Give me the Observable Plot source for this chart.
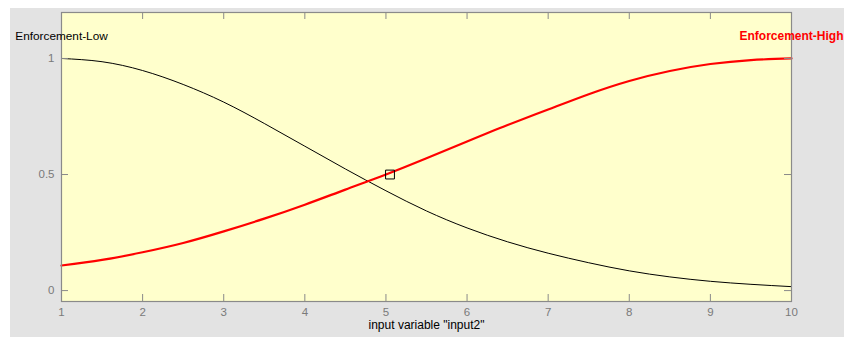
<!DOCTYPE html>
<html>
<head>
<meta charset="utf-8">
<script src="https://cdn.jsdelivr.net/npm/d3@7"></script>
<script src="https://cdn.jsdelivr.net/npm/@observablehq/plot@0.6"></script>
<style>
  html, body { margin: 0; padding: 0; background: #ffffff; }
  #wrap { position: relative; width: 844px; height: 337px; overflow: hidden; }
  #bg { position: absolute; left: 10px; top: 8px; right: 0; bottom: 0; background: #e3e3e3; }
  #chart { position: absolute; left: 0; top: 0; }
  svg { background: transparent !important; }
</style>
</head>
<body>
<div id="wrap"><div id="bg"></div><div id="chart"></div></div>
<script>
const xs = [1, 1.5, 2, 2.5, 3, 3.5, 4, 4.5, 5, 5.5, 6, 6.5, 7, 7.5, 8, 8.5, 9, 9.5, 10];
const lowValues = [1.0, 0.986, 0.948, 0.888, 0.812, 0.72, 0.622, 0.524, 0.43, 0.343, 0.27, 0.21, 0.161, 0.12, 0.085, 0.059, 0.04, 0.027, 0.017];
const highValues = [0.108, 0.132, 0.165, 0.205, 0.255, 0.31, 0.37, 0.435, 0.5, 0.57, 0.642, 0.713, 0.78, 0.846, 0.903, 0.946, 0.976, 0.993, 1.0];
const xTicks = [1, 2, 3, 4, 5, 6, 7, 8, 9, 10];
const yTicks = [0, 0.5, 1];
const mfNames = ["Enforcement-Low", "Enforcement-High"];
const mfPeaks = [1, 10];
const marker = [{x: 5.05, y: 0.5}];
const xLabel = 'input variable "input2"';

const low = xs.map((x, i) => ({x, y: lowValues[i]}));
const high = xs.map((x, i) => ({x, y: highValues[i]}));

const W = 844, H = 337;
const mt = 12, mb = 36, ml = 61, mr = 53;
const ph = H - mt - mb, pw = W - ml - mr;
const tick = 7;

const chart = Plot.plot({
  width: W, height: H,
  marginTop: mt, marginBottom: mb, marginLeft: ml, marginRight: mr,
  style: {fontFamily: "Liberation Sans, Arial, sans-serif", fontSize: "11px", background: "transparent"},
  x: {domain: [1, 10]},
  y: {domain: [-0.047, 1.198]},
  marks: [
    Plot.frame({fill: "#ffffcc", stroke: null}),
    Plot.line(low, {x: "x", y: "y", stroke: "#000000", strokeWidth: 1, curve: "natural"}),
    Plot.line(high, {x: "x", y: "y", stroke: "#ff0000", strokeWidth: 2.2, curve: "natural"}),
    Plot.dot(marker, {x: "x", y: "y", symbol: "square", r: 5, stroke: "#000", strokeWidth: 1, fill: "none"}),
    Plot.frame({stroke: "#8a8a8a", strokeWidth: 1.2}),
    Plot.ruleX(xTicks, {x: d => d, insetTop: ph - tick, stroke: "#8a8a8a"}),
    Plot.ruleX(xTicks, {x: d => d, insetBottom: ph - tick, stroke: "#8a8a8a"}),
    Plot.ruleY(yTicks, {y: d => d, insetRight: pw - tick, stroke: "#8a8a8a"}),
    Plot.ruleY(yTicks, {y: d => d, insetLeft: pw - tick, stroke: "#8a8a8a"}),
    Plot.axisX(xTicks, {anchor: "bottom", tickSize: 0, tickPadding: 6, color: "#7a7a7a", fontSize: 11.5, label: null, tickFormat: d => String(d)}),
    Plot.axisY(yTicks, {anchor: "left", tickSize: 0, tickPadding: 7, color: "#7a7a7a", fontSize: 11.5, label: null, tickFormat: d => String(d)}),
    Plot.text([xLabel], {frameAnchor: "bottom", dy: 27, fill: "#000", fontSize: 12}),
    Plot.text([0], {x: d => mfPeaks[d], y: 1, text: d => mfNames[d], dy: -22, fill: "#000", fontSize: 11.8}),
    Plot.text([1], {x: d => mfPeaks[d], y: 1, text: d => mfNames[d], dy: -22, fill: "#ff0000", fontWeight: "bold", fontSize: 12})
  ]
});
document.getElementById("chart").appendChild(chart);
</script>
</body>
</html>
